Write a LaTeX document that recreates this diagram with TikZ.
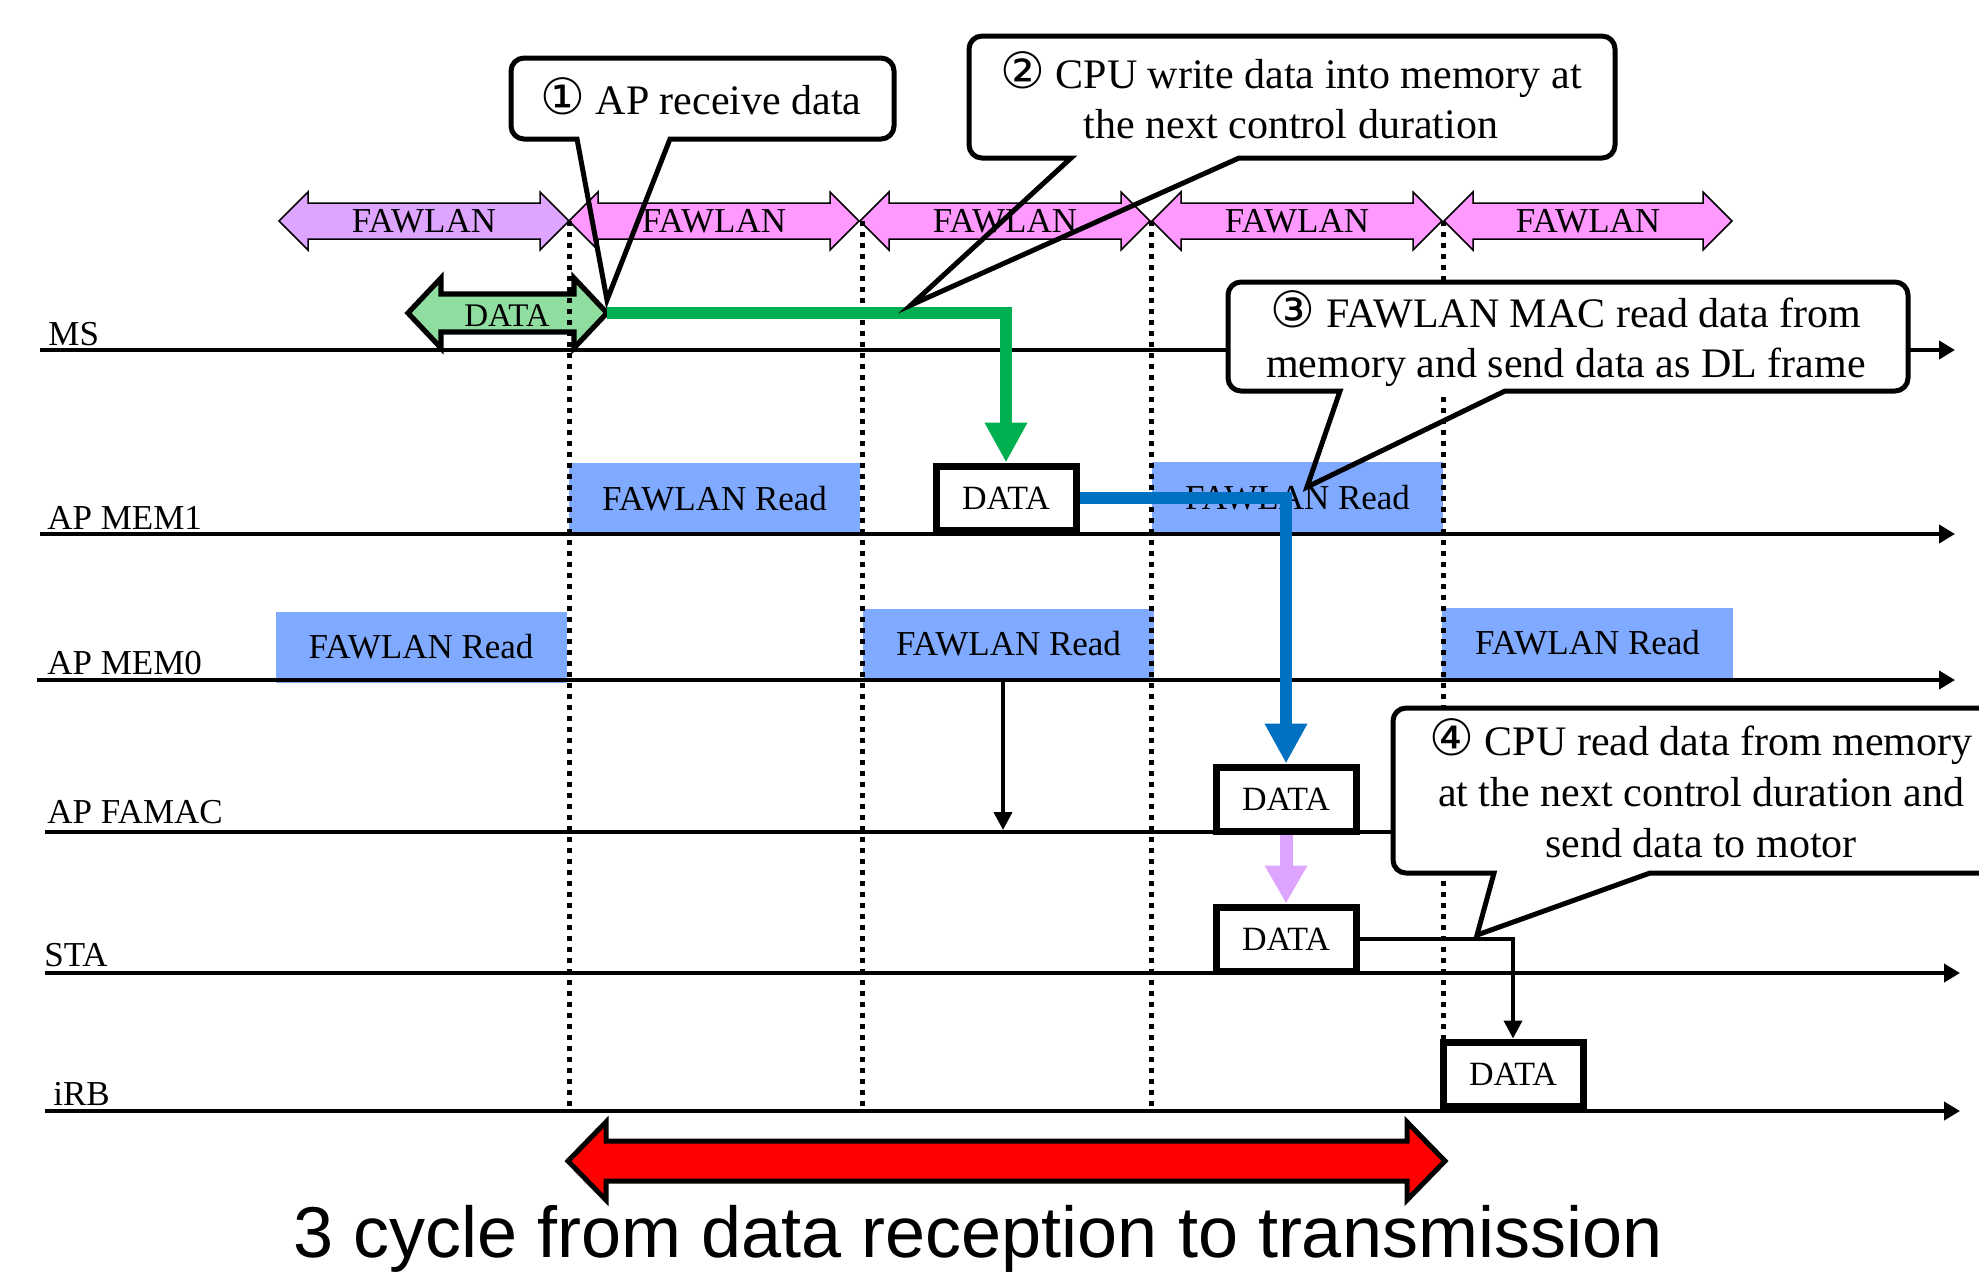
\documentclass[tikz,border=0pt]{standalone}
\usepackage{fontspec}
\setmainfont{Liberation Serif}
\newfontfamily\arialish{Liberation Sans}
\newfontfamily\circfont{DejaVu Sans}
\usetikzlibrary{arrows.meta}

\definecolor{lavfill}{RGB}{221,165,255}
\definecolor{pinkfill}{RGB}{255,153,255}
\definecolor{datagreen}{RGB}{144,221,160}
\definecolor{greenline}{RGB}{0,176,80}
\definecolor{blueline}{RGB}{0,112,192}
\definecolor{readblue}{RGB}{128,170,255}

% two-headed block arrow: style, left x, right x, centre y, shaft half height, head half height, head length
\newcommand{\twohead}[7]{%
  \draw[#1] (#2,#4) -- ({#2+#7},{#4-#6}) -- ({#2+#7},{#4-#5}) -- ({#3-#7},{#4-#5})
    -- ({#3-#7},{#4-#6}) -- (#3,#4) -- ({#3-#7},{#4+#6}) -- ({#3-#7},{#4+#5})
    -- ({#2+#7},{#4+#5}) -- ({#2+#7},{#4+#6}) -- cycle;}

% speech balloon: left, top, right, bottom, pointer base left x, pointer base right x, tip x, tip y
\newcommand{\balloon}[8]{%
  \fill[white, rounded corners=6.5pt] (#1,#2) rectangle (#3,#4);
  \draw[balloonline] ({(#1+#5)/2},#4) -- (#5,#4) -- (#7,#8) -- (#6,#4) -- ({(#6+#3)/2},#4)
    [rounded corners=6.5pt] -- (#3,#4) -- (#3,#2) -- (#1,#2) -- (#1,#4) -- ({(#1+#5)/2},#4);}

% circled step number
\newcommand{\stepno}[1]{{\circfont\fontsize{25}{25}\selectfont #1}}

\tikzset{
  lanelbl/.style={font=\fontsize{17.5}{21}\selectfont, inner sep=0pt, anchor=base west},
  fwtxt/.style={font=\fontsize{17.5}{21}\selectfont, inner sep=0pt},
  readbox/.style={fill=readblue, inner sep=0pt, minimum width=145.5pt, minimum height=35.5pt,
    font=\fontsize{17.5}{21}\selectfont},
  databox/.style={draw, line width=3.5pt, fill=white, inner sep=0pt, minimum width=70pt,
    minimum height=32pt, font=\fontsize{17}{20}\selectfont},
  calltext/.style={font=\fontsize{21}{25}\selectfont, inner sep=0pt, anchor=base},
  laneline/.style={line width=2.3pt, -{Triangle[length=8pt,width=9pt]}},
  cyclemark/.style={line width=2.5pt, dash pattern=on 2.5pt off 3pt},
  balloonline/.style={line width=2.5pt, line join=miter},
  bigflow/.style={line width=6pt, -{Triangle[length=20pt,width=20pt]}},
  thinflow/.style={line width=2pt, -{Triangle[length=9pt,width=9pt]}},
  fawarrow/.style={draw=black, line width=0.75pt, line join=miter},
}

\begin{document}
\begin{tikzpicture}[x=0.5pt,y=-0.5pt]
\clip (0,0) rectangle (1979,1276);

% memory read windows
\node[readbox] (r1)  at (714.5,498.5) {FAWLAN Read};
\node[readbox] (r2)  at (1297.5,497.5) {FAWLAN Read};
\node[readbox] (r0a) at (421,647) {FAWLAN Read};
\node[readbox] (r0b) at (1008.5,644) {FAWLAN Read};
\node[readbox] (r0c) at (1587.5,643) {FAWLAN Read};

% time lines
\coordinate (msL) at (40,350);   \coordinate (msR) at (1955,350);
\coordinate (m1L) at (40,534);   \coordinate (m1R) at (1955,534);
\coordinate (m0L) at (37,680);   \coordinate (m0R) at (1955,680);
\coordinate (faL) at (45,832);   \coordinate (faR) at (1955,832);
\coordinate (stL) at (45,973);   \coordinate (stR) at (1960,973);
\coordinate (rbL) at (45,1111);  \coordinate (rbR) at (1960,1111);
\foreach \a/\b in {msL/msR,m1L/m1R,m0L/m0R,faL/faR,stL/stR,rbL/rbR}
  \draw[laneline] (\a) -- (\b);

\node[lanelbl] (lms)  at (48,345)  {MS};
\node[lanelbl] (lm1)  at (47,529)  {AP MEM1};
\node[lanelbl] (lm0)  at (47,674)  {AP MEM0};
\node[lanelbl] (lfa)  at (47,823)  {AP FAMAC};
\node[lanelbl] (lsta) at (44,966)  {STA};
\node[lanelbl] (lirb) at (53,1105) {iRB};

% FAWLAN control cycles
\twohead{fawarrow, fill=lavfill}{279}{569}{221}{18}{29}{29}
\twohead{fawarrow, fill=pinkfill}{569}{859}{221}{18}{29}{29}
\twohead{fawarrow, fill=pinkfill}{860}{1150}{221}{18}{29}{29}
\twohead{fawarrow, fill=pinkfill}{1152}{1442}{221}{18}{29}{29}
\twohead{fawarrow, fill=pinkfill}{1444}{1732}{221}{18}{29}{29}
\node[fwtxt] (fw1) at (424,221)  {FAWLAN};
\node[fwtxt] (fw2) at (714,221)  {FAWLAN};
\node[fwtxt] (fw3) at (1005,221) {FAWLAN};
\node[fwtxt] (fw4) at (1297,221) {FAWLAN};
\node[fwtxt] (fw5) at (1588,221) {FAWLAN};

% received frame on MS
\twohead{draw=black, line width=2.6pt, line join=miter, fill=datagreen}{408}{607}{313}{19}{35}{33}
\node[font=\fontsize{16.5}{19}\selectfont, inner sep=0pt] (msdata) at (507,316) {DATA};
\coordinate (msdataR) at (607,313);

% cycle boundaries
\foreach \xx [count=\i] in {569,862,1151,1443}{
  \coordinate (bt\i) at (\xx,221);
  \coordinate (bb\i) at (\xx,1111);
  \draw[cyclemark] (bt\i) -- (bb\i);
}

% data blocks
\node[databox] (m1data)  at (1006,498)  {DATA};
\node[databox] (famdata) at (1286,799)  {DATA};
\node[databox] (stadata) at (1286,939)  {DATA};
\node[databox] (irbdata) at (1513,1074) {DATA};

% data flow
\draw[bigflow, greenline] (msdataR) -| (m1data.north);
\draw[bigflow, blueline] (m1data.east) -| (famdata.north);
\draw[line width=6.5pt, lavfill, -{Triangle[length=19pt,width=20pt]}] (famdata.south) -- (stadata.north);
\coordinate (m0tap) at (1003,682);
\coordinate (fahit) at (1003,830);
\draw[thinflow] (m0tap) -- (fahit);
\draw[thinflow] (stadata.east) -| (irbdata.north);

% explanation balloons
\balloon{511}{58}{894}{139}{577}{670}{607}{300}
\node[calltext] (c1) at (701,114) {\stepno{①} AP receive data};

\balloon{969}{36}{1615}{158}{1071}{1239}{911}{305}
\node[calltext] (c2a) at (1291,88)  {\stepno{②} CPU write data into memory at};
\node[calltext] (c2b) at (1291,138) {the next control duration};

\balloon{1228}{282}{1908}{391}{1340}{1505}{1307}{487}
\node[calltext] (c3a) at (1566,327) {\stepno{③} FAWLAN MAC read data from};
\node[calltext] (c3b) at (1566,377) {memory and send data as DL frame};

\balloon{1393}{708}{2030}{873}{1494}{1650}{1477}{935}
\node[calltext] (c4a) at (1701,755) {\stepno{④} CPU read data from memory};
\node[calltext] (c4b) at (1701,806) {at the next control duration and};
\node[calltext] (c4c) at (1701,857) {send data to motor};

% latency span
\twohead{draw=black, line width=2.5pt, line join=miter, fill=red}{568}{1445}{1161}{20}{39}{38}
\node[font=\arialish\fontsize{36}{43}\selectfont, inner sep=0pt, anchor=base] (span) at (978,1257)
  {3 cycle from data reception to transmission};
\end{tikzpicture}
\end{document}
